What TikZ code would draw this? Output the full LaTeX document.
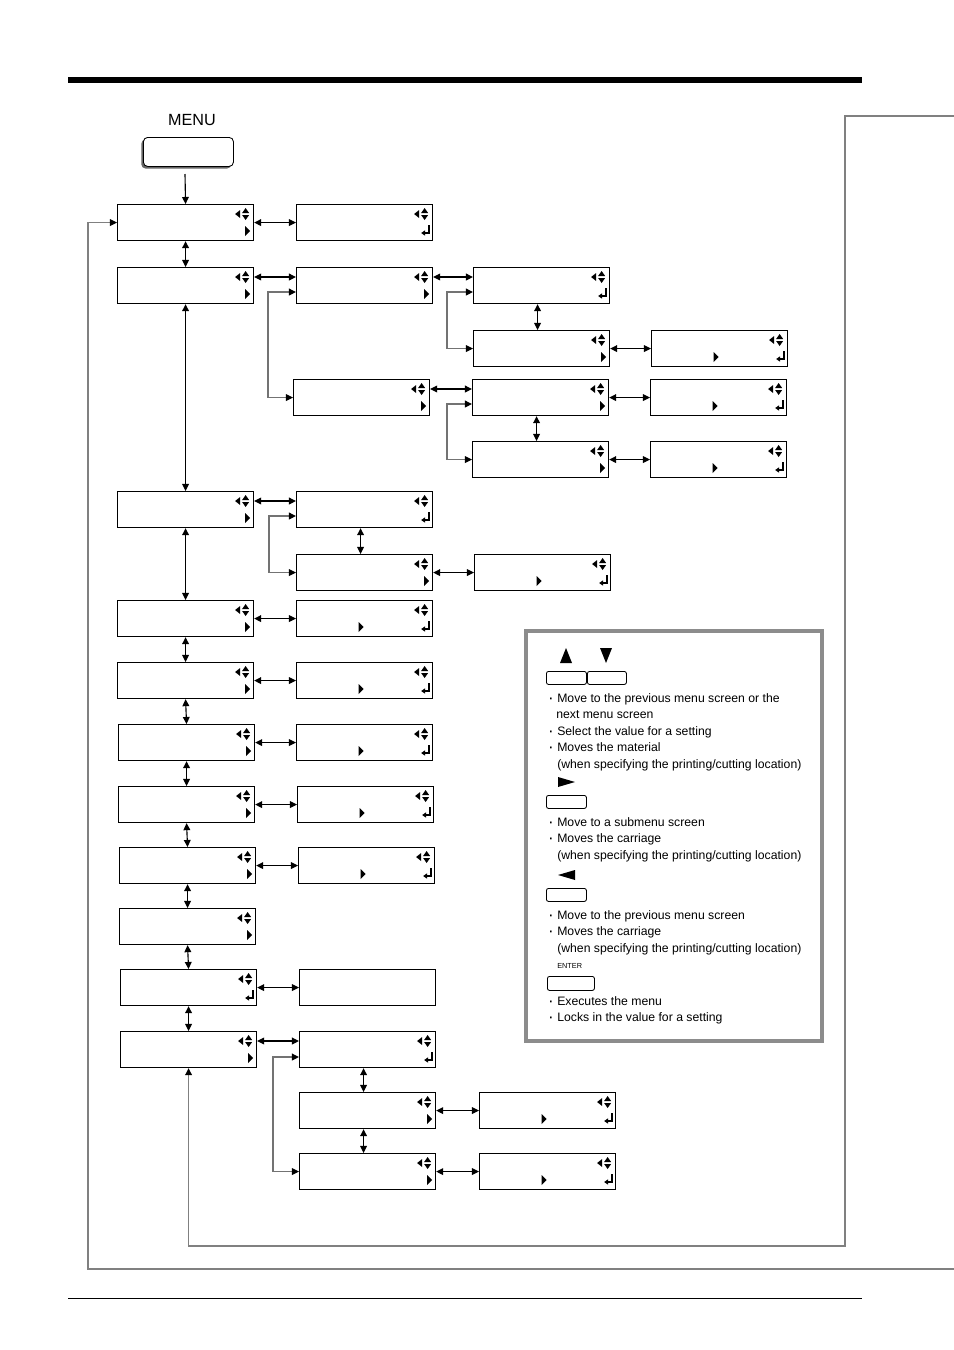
\documentclass[tikz,border=0pt]{standalone}
\usepackage{fontspec}
\setmainfont{Liberation Sans}
\usetikzlibrary{arrows.meta,calc,shadows}
\newcommand{\pixel}{0.025cm}
\newcommand{\screenWidth}{136}
\newcommand{\screenHeight}{36}
\newcommand{\itemDot}{\llap{\raisebox{-1pt}{\fontsize{12}{12}\selectfont·}\hspace{2.6pt}}}
\newcommand{\navMark}[1]{\fill ([shift={(-19,10)}]#1.north east) -- ++(5,-4) -- ++(0,8) -- cycle;\fill ([shift={(-12,9)}]#1.north east) -- ++(3.5,-5) -- ++(3.5,5) -- cycle;\fill ([shift={(-12,11)}]#1.north east) -- ++(3.5,5) -- ++(3.5,-5) -- cycle;}
\newcommand{\subMark}[1]{\fill ([shift={(-9,22)}]#1.north east) -- ++(5,5) -- ++(-5,5) -- cycle;}
\newcommand{\valueMark}[1]{\fill ([shift={(-6,22)}]#1.north) -- ++(5,5) -- ++(-5,5) -- cycle;}
\newcommand{\enterMark}[1]{\draw[line width=0.9pt,-{Triangle[length=2.8pt,width=3.6pt]}] ([shift={(-4,21)}]#1.north east) -- ++(0,8) -- ++(-8,0);}

\begin{document}
\begin{tikzpicture}[x=\pixel,y=-\pixel]
\tikzstyle{screenNode}=[draw,line width=0.8pt,rectangle,inner sep=0pt,minimum width=\screenWidth*\pixel,minimum height=\screenHeight*\pixel,anchor=north west]
\tikzstyle{menuEdge}=[<->,>={Triangle[length=5pt,width=4.8pt]},line width=0.8pt]
\tikzstyle{branchEdge}=[<->,>={Triangle[length=5pt,width=4.8pt,color=black]},line width=0.8pt,draw=black!55]
\tikzstyle{loopEdge}=[-{Triangle[length=5pt,width=4.8pt,color=black]},line width=0.8pt,draw=black!50]
\tikzstyle{keyNode}=[draw,line width=0.6pt,rounded corners=1.5pt,inner sep=0pt,anchor=north west,minimum height=13*\pixel]
\tikzstyle{legendText}=[anchor=base west,inner sep=0pt,font=\fontsize{8.7}{11.7}\selectfont]
\useasboundingbox (0,0) rectangle (954,1350);
\fill (68,77) rectangle (862,83);
\draw[line width=0.6pt] (68,1298) -- (862,1298);
\node[font=\fontsize{11.5}{12}\selectfont,inner sep=0pt] (menu-label) at (192,120) {MENU};
\node[draw,line width=0.6pt,rounded corners=3pt,fill=white,inner sep=0pt,anchor=north west,minimum width=90*\pixel,minimum height=29*\pixel,drop shadow={shadow xshift=-1.5pt,shadow yshift=-1.5pt,opacity=1,fill=black!60}] (menu) at (143,137) {};
\coordinate (menu-out) at (185,174);
\node[screenNode] (s-0-0) at (117,204) {};\navMark{s-0-0}\subMark{s-0-0}
\node[screenNode] (s-0-1) at (296,204) {};\navMark{s-0-1}\enterMark{s-0-1}
\node[screenNode] (s-1-0) at (117,267) {};\navMark{s-1-0}\subMark{s-1-0}
\node[screenNode] (s-1-1) at (296,267) {};\navMark{s-1-1}\subMark{s-1-1}
\node[screenNode] (s-1-2) at (473,267) {};\navMark{s-1-2}\enterMark{s-1-2}
\node[screenNode] (s-2-2) at (473,330) {};\navMark{s-2-2}\subMark{s-2-2}
\node[screenNode] (s-2-3) at (651,330) {};\navMark{s-2-3}\valueMark{s-2-3}\enterMark{s-2-3}
\node[screenNode] (s-3-1) at (293,379) {};\navMark{s-3-1}\subMark{s-3-1}
\node[screenNode] (s-3-2) at (472,379) {};\navMark{s-3-2}\subMark{s-3-2}
\node[screenNode] (s-3-3) at (650,379) {};\navMark{s-3-3}\valueMark{s-3-3}\enterMark{s-3-3}
\node[screenNode] (s-4-2) at (472,441) {};\navMark{s-4-2}\subMark{s-4-2}
\node[screenNode] (s-4-3) at (650,441) {};\navMark{s-4-3}\valueMark{s-4-3}\enterMark{s-4-3}
\node[screenNode] (s-5-0) at (117,491) {};\navMark{s-5-0}\subMark{s-5-0}
\node[screenNode] (s-5-1) at (296,491) {};\navMark{s-5-1}\enterMark{s-5-1}
\node[screenNode] (s-6-1) at (296,554) {};\navMark{s-6-1}\subMark{s-6-1}
\node[screenNode] (s-6-2) at (474,554) {};\navMark{s-6-2}\valueMark{s-6-2}\enterMark{s-6-2}
\node[screenNode] (s-7-0) at (117,600) {};\navMark{s-7-0}\subMark{s-7-0}
\node[screenNode] (s-7-1) at (296,600) {};\navMark{s-7-1}\valueMark{s-7-1}\enterMark{s-7-1}
\node[screenNode] (s-8-0) at (117,662) {};\navMark{s-8-0}\subMark{s-8-0}
\node[screenNode] (s-8-1) at (296,662) {};\navMark{s-8-1}\valueMark{s-8-1}\enterMark{s-8-1}
\node[screenNode] (s-9-0) at (118,724) {};\navMark{s-9-0}\subMark{s-9-0}
\node[screenNode] (s-9-1) at (296,724) {};\navMark{s-9-1}\valueMark{s-9-1}\enterMark{s-9-1}
\node[screenNode] (s-10-0) at (118,786) {};\navMark{s-10-0}\subMark{s-10-0}
\node[screenNode] (s-10-1) at (297,786) {};\navMark{s-10-1}\valueMark{s-10-1}\enterMark{s-10-1}
\node[screenNode] (s-11-0) at (119,847) {};\navMark{s-11-0}\subMark{s-11-0}
\node[screenNode] (s-11-1) at (298,847) {};\navMark{s-11-1}\valueMark{s-11-1}\enterMark{s-11-1}
\node[screenNode] (s-12-0) at (119,908) {};\navMark{s-12-0}\subMark{s-12-0}
\node[screenNode] (s-13-0) at (120,969) {};\navMark{s-13-0}\enterMark{s-13-0}
\node[screenNode] (s-13-1) at (299,969) {};
\node[screenNode] (s-14-0) at (120,1031) {};\navMark{s-14-0}\subMark{s-14-0}
\node[screenNode] (s-14-1) at (299,1031) {};\navMark{s-14-1}\enterMark{s-14-1}
\node[screenNode] (s-15-1) at (299,1092) {};\navMark{s-15-1}\subMark{s-15-1}
\node[screenNode] (s-15-2) at (479,1092) {};\navMark{s-15-2}\valueMark{s-15-2}\enterMark{s-15-2}
\node[screenNode] (s-16-1) at (299,1153) {};\navMark{s-16-1}\subMark{s-16-1}
\node[screenNode] (s-16-2) at (479,1153) {};\navMark{s-16-2}\valueMark{s-16-2}\enterMark{s-16-2}
\draw[-{Triangle[length=5pt,width=4.8pt]},line width=0.8pt] (menu-out) -- (s-0-0.north);
\draw[menuEdge] (s-0-0.east) -- (s-0-1.west);
\draw[menuEdge] (s-0-0.south) -- (s-1-0.north);
\draw[menuEdge] ($(s-1-0.north east)+(0,10)$) -- ($(s-1-1.north west)+(0,10)$);
\draw[menuEdge] ($(s-1-1.north east)+(0,10)$) -- ($(s-1-2.north west)+(0,10)$);
\draw[branchEdge] ($(s-1-1.north west)+(0,25)$) -- ++(-28,0) |- (s-3-1.west);
\draw[branchEdge] ($(s-1-2.north west)+(0,25)$) -- ++(-26,0) |- (s-2-2.west);
\draw[menuEdge] ($(s-1-2.south)+(-4,0)$) -- ($(s-2-2.north)+(-4,0)$);
\draw[menuEdge] (s-2-2.east) -- (s-2-3.west);
\draw[menuEdge] ($(s-3-1.north east)+(0,10)$) -- ($(s-3-2.north west)+(0,10)$);
\draw[branchEdge] ($(s-3-2.north west)+(0,25)$) -- ++(-25,0) |- (s-4-2.west);
\draw[menuEdge] ($(s-3-2.south)+(-4,0)$) -- ($(s-4-2.north)+(-4,0)$);
\draw[menuEdge] (s-3-2.east) -- (s-3-3.west);
\draw[menuEdge] (s-4-2.east) -- (s-4-3.west);
\draw[menuEdge] (s-1-0.south) -- (s-5-0.north);
\draw[menuEdge] ($(s-5-0.north east)+(0,10)$) -- ($(s-5-1.north west)+(0,10)$);
\draw[branchEdge] ($(s-5-1.north west)+(0,25)$) -- ++(-27,0) |- (s-6-1.west);
\draw[menuEdge] ($(s-5-1.south)+(-4,0)$) -- ($(s-6-1.north)+(-4,0)$);
\draw[menuEdge] (s-6-1.east) -- (s-6-2.west);
\draw[menuEdge] (s-5-0.south) -- (s-7-0.north);
\draw[menuEdge] (s-7-0.east) -- (s-7-1.west);
\draw[menuEdge] (s-7-0.south) -- (s-8-0.north);
\draw[menuEdge] (s-8-0.east) -- (s-8-1.west);
\draw[menuEdge] (s-8-0.south) -- (s-9-0.north);
\draw[menuEdge] (s-9-0.east) -- (s-9-1.west);
\draw[menuEdge] (s-9-0.south) -- (s-10-0.north);
\draw[menuEdge] (s-10-0.east) -- (s-10-1.west);
\draw[menuEdge] (s-10-0.south) -- (s-11-0.north);
\draw[menuEdge] (s-11-0.east) -- (s-11-1.west);
\draw[menuEdge] (s-11-0.south) -- (s-12-0.north);
\draw[menuEdge] (s-12-0.south) -- (s-13-0.north);
\draw[menuEdge] (s-13-0.east) -- (s-13-1.west);
\draw[menuEdge] (s-13-0.south) -- (s-14-0.north);
\draw[menuEdge] ($(s-14-0.north east)+(0,10)$) -- ($(s-14-1.north west)+(0,10)$);
\draw[branchEdge] ($(s-14-1.north west)+(0,26)$) -- ++(-26,0) |- (s-16-1.west);
\draw[menuEdge] ($(s-14-1.south)+(-4,0)$) -- ($(s-15-1.north)+(-4,0)$);
\draw[menuEdge] ($(s-15-1.south)+(-4,0)$) -- ($(s-16-1.north)+(-4,0)$);
\draw[menuEdge] (s-15-1.east) -- (s-15-2.west);
\draw[menuEdge] (s-16-1.east) -- (s-16-2.west);
\coordinate (loop-a) at (954,116);
\coordinate (loop-b) at (954,1269);
\draw[loopEdge] (loop-a) -- (845,116) -- (845,1246) -| (s-14-0.south);
\draw[loopEdge] (loop-b) -- (88,1269) |- (s-0-0.west);
\node[draw=black!45,line width=2.8pt,inner sep=0pt,anchor=north west,minimum width=296*\pixel,minimum height=410*\pixel] (legend) at (524,629) {};
\fill (560,663) -- (566,648) -- (572,663) -- cycle;
\fill (600,648) -- (606,663) -- (612,648) -- cycle;
\node[keyNode,minimum width=40*\pixel] (k-up) at (546,671) {};
\node[keyNode,minimum width=39*\pixel] (k-down) at (587,671) {};
\node[legendText] (t-1) at (557,702) {\itemDot Move to the previous menu screen or the};
\node[legendText] (t-2) at (556,718) {next menu screen};
\node[legendText] (t-3) at (557,735) {\itemDot Select the value for a setting};
\node[legendText] (t-4) at (557,751) {\itemDot Moves the material};
\node[legendText] (t-5) at (557,768) {(when specifying the printing/cutting location)};
\fill (558,777) -- (575,782) -- (558,787) -- cycle;
\node[keyNode,minimum width=40*\pixel] (k-right) at (546,795) {};
\node[legendText] (t-6) at (557,826) {\itemDot Move to a submenu screen};
\node[legendText] (t-7) at (557,842) {\itemDot Moves the carriage};
\node[legendText] (t-8) at (557,859) {(when specifying the printing/cutting location)};
\fill (575,870) -- (558,875) -- (575,880) -- cycle;
\node[keyNode,minimum width=40*\pixel] (k-left) at (546,888) {};
\node[legendText] (t-9) at (557,919) {\itemDot Move to the previous menu screen};
\node[legendText] (t-10) at (557,935) {\itemDot Moves the carriage};
\node[legendText] (t-11) at (557,952) {(when specifying the printing/cutting location)};
\node[legendText,font=\fontsize{5.2}{6}\selectfont] (t-enter) at (557,968) {ENTER};
\node[keyNode,minimum width=47*\pixel,minimum height=14*\pixel] (k-enter) at (547,976) {};
\node[legendText] (t-12) at (557,1005) {\itemDot Executes the menu};
\node[legendText] (t-13) at (557,1021) {\itemDot Locks in the value for a setting};
\end{tikzpicture}
\end{document}
